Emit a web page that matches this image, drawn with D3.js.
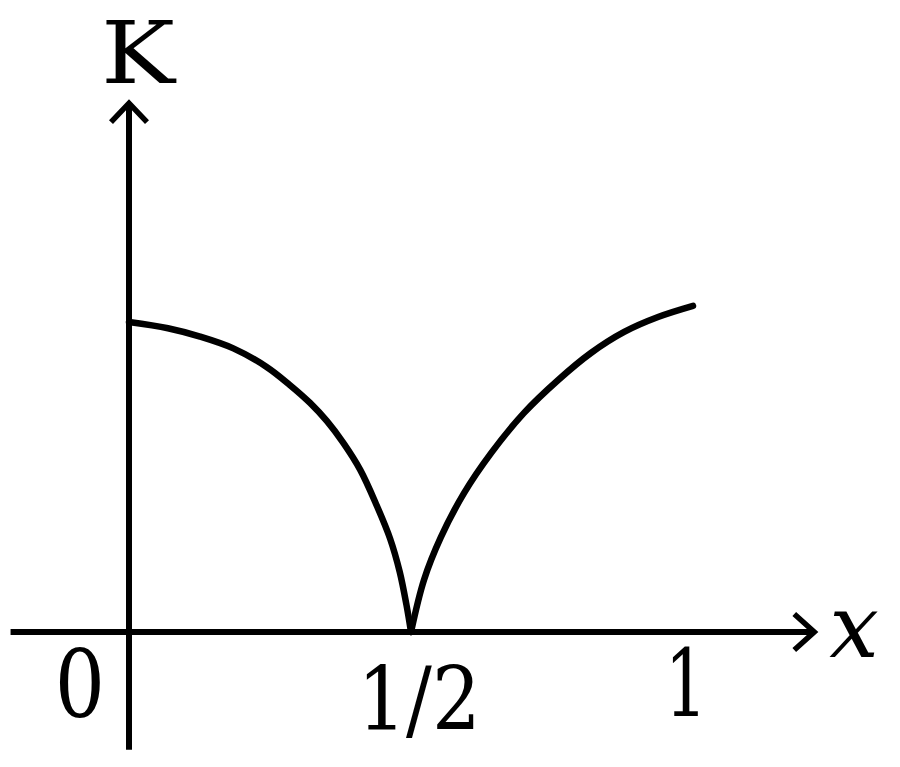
<!DOCTYPE html>
<html>
<head>
<meta charset="utf-8">
<script src="https://cdn.jsdelivr.net/npm/d3@7"></script>
<style>
  html, body { margin: 0; padding: 0; background: #fff; }
  svg { display: block; }
</style>
</head>
<body>
<svg id="chart" width="900" height="767"></svg>
<script>
// ---- data ----
const leftX  = [0, 0.069, 0.126, 0.185, 0.244, 0.285, 0.321, 0.351, 0.380, 0.410, 0.439, 0.463, 0.480, 0.492, 0.5];
const leftK  = [1.0, 0.980, 0.953, 0.915, 0.855, 0.797, 0.739, 0.680, 0.610, 0.523, 0.409, 0.301, 0.194, 0.087, 0];
const rightX = [0.5, 0.523, 0.553, 0.594, 0.642, 0.700, 0.761, 0.819, 0.878, 0.938, 1.0];
const rightK = [0, 0.168, 0.306, 0.448, 0.577, 0.706, 0.813, 0.900, 0.968, 1.016, 1.052];
const tickValues = [0, 0.5, 1];
const tickLabels = ["0", "1/2", "1"];
const xLabel = "x";
const yLabel = "K";

const FONT = `"DejaVu Serif", serif`;

// ---- scales ----
const x = d3.scaleLinear().domain([0, 1]).range([129, 693]);
const y = d3.scaleLinear().domain([0, 1]).range([632, 322]);

const svg = d3.select("#chart");

// axes
const xMin = -0.21, xMax = 1.215, yMin = -0.38, yMax = 1.706;
svg.append("line")
  .attr("x1", x(xMin)).attr("y1", y(0))
  .attr("x2", x(xMax) - 2).attr("y2", y(0))
  .attr("stroke", "#000").attr("stroke-width", 6);
svg.append("line")
  .attr("x1", x(0)).attr("y1", y(yMin))
  .attr("x2", x(0)).attr("y2", y(yMax) + 2)
  .attr("stroke", "#000").attr("stroke-width", 6);

// arrowheads (open chevrons)
const xt = [x(xMax), y(0)];
svg.append("polyline")
  .attr("points", [[xt[0] - 20, xt[1] - 18], xt, [xt[0] - 20, xt[1] + 18]].map(p => p.join(",")).join(" "))
  .attr("fill", "none").attr("stroke", "#000").attr("stroke-width", 5.5)
  .attr("stroke-linejoin", "miter").attr("stroke-miterlimit", 10);
const yt = [x(0), y(yMax)];
svg.append("polyline")
  .attr("points", [[yt[0] - 18, yt[1] + 19], yt, [yt[0] + 18, yt[1] + 19]].map(p => p.join(",")).join(" "))
  .attr("fill", "none").attr("stroke", "#000").attr("stroke-width", 5.5)
  .attr("stroke-linejoin", "miter").attr("stroke-miterlimit", 10);

// curves
const line = d3.line()
  .x(d => x(d[0])).y(d => y(d[1]))
  .curve(d3.curveCatmullRom.alpha(0.5));
const leftData = leftX.map((v, i) => [v, leftK[i]]);
const rightData = rightX.map((v, i) => [v, rightK[i]]);
[leftData, rightData].forEach(dat => {
  svg.append("path")
    .attr("d", line(dat))
    .attr("fill", "none")
    .attr("stroke", "#000")
    .attr("stroke-width", 6.5)
    .attr("stroke-linecap", "round");
});

// text helper: centred at cx on baseline, with horizontal squeeze
function label(str, cx, base, size, sx, italic) {
  svg.append("text")
    .attr("transform", `translate(${cx},${base}) scale(${sx},1)`)
    .attr("text-anchor", "middle")
    .attr("font-family", FONT)
    .attr("font-size", size)
    .attr("font-style", italic ? "italic" : "normal")
    .attr("fill", "#000")
    .text(str);
}

// tick labels
const tickDx   = [-49, 8, -7];
const tickBase = [717, 730, 716];
const tickSize = [93, 88, 93];
const tickSx   = [0.85, 0.87, 0.72];
tickLabels.forEach((t, i) => {
  label(t, x(tickValues[i]) + tickDx[i], tickBase[i], tickSize[i], tickSx[i], false);
});

// axis titles
label(xLabel, 854, 657, 88, 1, true);
label(yLabel, 138, 83, 86, 1.15, false);
</script>
</body>
</html>
